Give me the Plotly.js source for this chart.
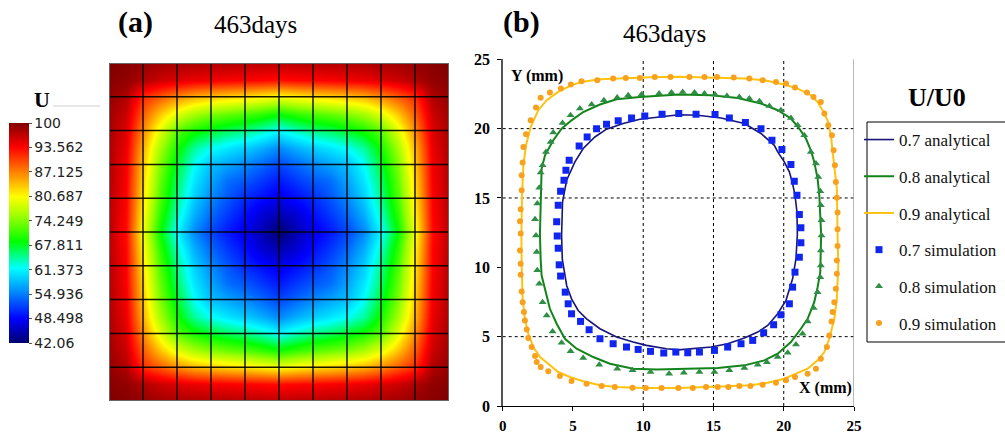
<!DOCTYPE html>
<html><head><meta charset="utf-8">
<script src="https://cdn.plot.ly/plotly-3.0.1.min.js"></script>
<style>html,body{margin:0;padding:0;background:#fff;}#chart{width:1005px;height:435px;}</style>
</head><body><div id="chart"></div>
<script>
// ---------- Panel (a): U sampled every half element on the 10x10 mesh ----------
const meshNodes = [0,1,2,3,4,5,6,7,8,9,10];
const sampleX = [0,0.5,1,1.5,2,2.5,3,3.5,4,4.5,5,5.5,6,6.5,7,7.5,8,8.5,9,9.5,10];
const sampleY = [0,0.5,1,1.5,2,2.5,3,3.5,4,4.5,5,5.5,6,6.5,7,7.5,8,8.5,9,9.5,10];
const uRows = [
  [100,99.6,99,98.4,98,97.7,97.5,97.4,97.3,97.1,97,97.1,97.3,97.4,97.5,97.7,98,98.4,99,99.6,100],
  [99.6,99.1,97.6,96.2,95.3,94.6,94.2,93.9,93.6,93.4,93,93.4,93.6,93.9,94.2,94.6,95.3,96.2,97.6,99.1,99.6],
  [99,97.6,91.5,89,86.5,84.5,83.4,82.6,81.9,81,80,81,81.9,82.6,83.4,84.5,86.5,89,91.5,97.6,99],
  [98.4,96.2,89,83.5,79,76,74.2,73,72,70.6,69,70.6,72,73,74.2,76,79,83.5,89,96.2,98.4],
  [98,95.3,86.5,79,72.5,69.5,67.5,66,65,63.4,61.5,63.4,65,66,67.5,69.5,72.5,79,86.5,95.3,98],
  [97.7,94.6,84.5,76,69.5,64.5,62,60.5,59.2,57.5,55.5,57.5,59.2,60.5,62,64.5,69.5,76,84.5,94.6,97.7],
  [97.5,94.2,83.4,74.2,67.5,62,58.5,57,55.5,53.8,52,53.8,55.5,57,58.5,62,67.5,74.2,83.4,94.2,97.5],
  [97.4,93.9,82.6,73,66,60.5,57,54,52.8,51.2,49.5,51.2,52.8,54,57,60.5,66,73,82.6,93.9,97.4],
  [97.3,93.6,81.9,72,65,59.2,55.5,52.8,50.5,49,47.5,49,50.5,52.8,55.5,59.2,65,72,81.9,93.6,97.3],
  [97.1,93.4,81,70.6,63.4,57.5,53.8,51.2,49,46.5,45,46.5,49,51.2,53.8,57.5,63.4,70.6,81,93.4,97.1],
  [97,93,80,69,61.5,55.5,52,49.5,47.5,45,42.06,45,47.5,49.5,52,55.5,61.5,69,80,93,97],
  [97.1,93.4,81,70.6,63.4,57.5,53.8,51.2,49,46.5,45,46.5,49,51.2,53.8,57.5,63.4,70.6,81,93.4,97.1],
  [97.3,93.6,81.9,72,65,59.2,55.5,52.8,50.5,49,47.5,49,50.5,52.8,55.5,59.2,65,72,81.9,93.6,97.3],
  [97.4,93.9,82.6,73,66,60.5,57,54,52.8,51.2,49.5,51.2,52.8,54,57,60.5,66,73,82.6,93.9,97.4],
  [97.5,94.2,83.4,74.2,67.5,62,58.5,57,55.5,53.8,52,53.8,55.5,57,58.5,62,67.5,74.2,83.4,94.2,97.5],
  [97.7,94.6,84.5,76,69.5,64.5,62,60.5,59.2,57.5,55.5,57.5,59.2,60.5,62,64.5,69.5,76,84.5,94.6,97.7],
  [98,95.3,86.5,79,72.5,69.5,67.5,66,65,63.4,61.5,63.4,65,66,67.5,69.5,72.5,79,86.5,95.3,98],
  [98.4,96.2,89,83.5,79,76,74.2,73,72,70.6,69,70.6,72,73,74.2,76,79,83.5,89,96.2,98.4],
  [99,97.6,91.5,89,86.5,84.5,83.4,82.6,81.9,81,80,81,81.9,82.6,83.4,84.5,86.5,89,91.5,97.6,99],
  [99.6,99.1,97.6,96.2,95.3,94.6,94.2,93.9,93.6,93.4,93,93.4,93.6,93.9,94.2,94.6,95.3,96.2,97.6,99.1,99.6],
  [100,99.6,99,98.4,98,97.7,97.5,97.4,97.3,97.1,97,97.1,97.3,97.4,97.5,97.7,98,98.4,99,99.6,100]
];
const uMin = 42.06, uMax = 100;
const cbTickVals = [100, 93.562, 87.125, 80.687, 74.249, 67.811, 61.373, 54.936, 48.498, 42.06];
const cbTickText = ['100', '93.562', '87.125', '80.687', '74.249', '67.811', '61.373', '54.936', '48.498', '42.06'];

// ---------- Panel (b): contour positions (mm) ----------
const ana07X = [4.19,4.26,4.55,5.14,5.73,6.56,7.39,8.57,9.76,10.95,12.53,13.88,15.54,17.2,18.38,19.33,19.57,20.04,20.4,20.63,20.8,20.94,20.97,20.87,20.63,20.16,19.57,18.86,18.15,17.2,16.01,14.83,13.65,12.5,11.66,10.23,9.28,8.1,6.92,5.97,5.37,4.9,4.55,4.24,4.19];
const ana07Y = [12.3,14.72,16.28,17.6,18.57,19.4,19.96,20.37,20.68,20.84,21.0,20.97,20.77,20.37,19.65,18.8,18.32,17.6,16.88,16.04,15.2,14.0,12.4,10.61,9.17,7.62,6.65,5.81,5.33,4.9,4.49,4.25,4.13,4.05,4.13,4.37,4.61,4.97,5.57,6.29,6.89,7.73,8.69,10.61,12.3];
const ana08X = [2.65,2.7,2.77,3.01,3.6,4.19,4.9,5.73,6.92,8.1,9.76,12.53,14.83,16.72,18.38,19.57,20.51,21.11,21.58,21.93,22.17,22.41,22.53,22.66,22.64,22.6,22.41,22.17,21.7,21.22,20.51,19.57,18.62,17.2,15.3,13.4,12.53,10.95,9.28,7.63,6.44,5.26,4.43,3.84,3.36,3.01,2.77,2.7,2.65];
const ana08Y = [12.4,15.68,17.12,18.08,19.16,20.0,20.6,21.2,21.74,22.12,22.28,22.46,22.41,22.21,21.81,21.33,20.73,20.0,19.29,18.44,17.6,16.4,15.2,12.4,11.1,9.65,8.57,7.49,6.29,5.57,4.61,3.77,3.29,2.93,2.74,2.69,2.64,2.64,2.69,3.05,3.53,4.13,4.85,5.93,7.01,8.34,9.41,10.61,12.4];
const ana09X = [1.33,1.37,1.47,1.66,1.99,2.53,3.13,3.95,4.9,5.61,6.92,8.81,10.47,12.53,15.3,17.2,18.62,20.04,20.99,21.93,22.41,22.76,23.12,23.36,23.48,23.6,23.78,23.83,23.88,23.78,23.6,23.24,22.89,22.41,21.7,20.87,20.04,18.86,17.67,16.01,14.36,12.53,9.99,8.1,6.92,5.73,4.78,3.95,3.24,2.65,2.18,1.82,1.58,1.42,1.35,1.33];
const ana09Y = [12.4,14.96,17.36,18.8,20.12,21.33,22.05,22.65,23.13,23.37,23.56,23.65,23.7,23.75,23.68,23.61,23.49,23.18,22.89,22.41,21.92,21.33,20.6,19.52,18.32,17.12,15.68,12.4,10.14,7.73,6.29,4.85,3.89,3.29,2.69,2.33,1.97,1.68,1.49,1.42,1.37,1.3,1.3,1.37,1.49,1.78,2.09,2.45,3.05,3.53,4.25,5.21,6.29,7.73,10.14,12.4];

const sim07X = [12.53,11.34,10.11,9.17,8.22,7.39,6.68,6.01,5.44,4.73,4.5,4.36,4.12,3.95,3.84,13.76,15.11,16.13,17.27,18.38,19.16,19.87,20.51,20.75,20.94,21.11,21.22,21.22,21.11,20.8,20.63,20.4,19.8,19.28,18.57,17.79,16.96,16.01,15.07,14.0,13.17,3.88,3.95,4.02,4.12,4.45,4.66,4.9,5.54,6.15,6.92,7.86,8.81,9.64,10.52,11.46,12.32];
const sim07Y = [21.1,21.04,20.92,20.77,20.56,20.32,20.0,19.4,18.75,17.72,17.0,16.28,15.49,14.48,13.28,21.04,21.02,20.77,20.44,20.0,19.16,18.49,17.41,16.21,15.2,13.81,12.85,11.77,10.73,9.65,8.57,7.37,6.58,5.86,5.28,4.73,4.49,4.25,4.01,3.89,3.84,12.25,11.38,10.18,9.37,8.21,7.37,6.65,6.1,5.5,4.85,4.49,4.25,4.08,3.94,3.82,3.89];
const sim08X = [12.01,11.13,9.88,8.93,8.15,7.2,6.33,5.49,4.83,4.26,3.6,3.41,3.08,2.84,2.7,2.6,2.46,2.3,12.81,13.65,14.36,15.11,15.96,16.84,17.55,18.27,18.98,19.8,20.51,20.99,21.46,21.93,22.29,22.46,22.6,22.64,22.69,22.69,22.64,22.64,22.6,22.41,22.13,21.7,21.34,20.87,20.28,19.57,18.8,18.15,17.2,16.13,15.07,14.0,12.89,2.37,2.42,2.46,2.6,2.84,3.13,3.55,4.19,4.83,5.73,6.87,8.15,9.24,10.52,11.84];
const sim08Y = [22.6,22.53,22.46,22.41,22.24,22.05,21.74,21.45,20.97,20.41,19.72,19.04,18.32,17.36,16.84,15.73,14.6,13.47,22.64,22.6,22.53,22.46,22.36,22.28,22.17,21.97,21.64,21.33,20.77,20.24,19.52,18.32,17.49,16.52,15.49,14.48,13.4,12.3,11.22,10.14,9.29,8.21,7.06,6.1,5.21,4.44,3.84,3.53,3.15,2.98,2.74,2.57,2.45,2.45,2.4,12.3,11.1,9.78,8.81,7.49,6.53,5.38,4.56,3.94,3.46,2.98,2.69,2.57,2.45,2.33];
const sim09X = [1.28,1.23,1.28,1.35,1.35,1.42,1.47,1.66,1.99,2.37,2.7,3.36,4.14,4.85,5.61,6.73,7.86,8.76,9.76,10.82,11.94,13.29,14.36,15.25,16.44,17.55,18.5,19.45,20.16,20.8,21.65,22.12,22.64,22.89,23.17,23.43,23.55,23.64,23.71,23.78,23.83,23.83,23.83,23.78,23.78,23.71,23.6,23.48,23.4,23.24,23.07,22.64,22.29,21.7,20.8,20.16,19.45,18.5,17.63,16.84,16.06,15.3,14.47,13.53,12.5,1.23,1.28,1.28,1.35,1.42,1.51,1.58,1.71,1.82,2.06,2.3,2.42,2.7,3.24,4.07,4.9,5.97,7.04,7.98,9.24,10.18,11.3];
const sim09Y = [12.44,13.33,14.19,15.56,16.64,17.56,18.68,19.6,20.6,21.52,22.22,22.6,22.89,23.18,23.41,23.49,23.61,23.65,23.65,23.73,23.73,23.73,23.73,23.73,23.68,23.61,23.49,23.37,23.25,22.96,22.6,22.28,21.92,21.09,20.24,19.52,18.44,17.36,16.16,15.01,13.96,12.75,11.53,10.5,9.53,8.45,7.49,6.77,6.1,5.09,4.25,3.41,2.69,2.33,2.09,1.85,1.68,1.54,1.44,1.44,1.37,1.37,1.37,1.3,1.3,11.22,10.25,9.46,8.26,7.49,6.77,6.17,5.52,4.9,4.25,3.6,3.17,2.81,2.5,2.16,1.8,1.61,1.44,1.37,1.32,1.3,1.3];

const bTicks = [0,5,10,15,20,25];
const gridX = [10,15,20];
const gridY = [5,15,20];

// ---------- figure ----------
const W = 1005, H = 435;
const px = v => v / W;          // pixel -> paper x
const py = v => 1 - v / H;      // pixel (from top) -> paper y

const jet = [
  [0, 'rgb(0,0,110)'], [0.11, 'rgb(0,0,255)'], [0.23, 'rgb(0,135,255)'],
  [0.34, 'rgb(0,255,255)'], [0.46, 'rgb(0,255,0)'], [0.58, 'rgb(160,255,0)'],
  [0.665, 'rgb(255,255,0)'], [0.78, 'rgb(255,125,0)'], [0.89, 'rgb(255,0,0)'],
  [1, 'rgb(128,0,0)']
];

const traces = [
  {
    type: 'heatmap', x: sampleX, y: sampleY, z: uRows,
    zmin: uMin, zmax: uMax, zsmooth: 'best', colorscale: jet,
    xaxis: 'x', yaxis: 'y', showlegend: false, hoverinfo: 'skip',
    colorbar: {
      x: px(9), xanchor: 'left', xpad: 0, ypad: 0, thickness: 20,
      len: 220 / H, lenmode: 'fraction', y: py(233), yanchor: 'middle',
      outlinewidth: 0, tickmode: 'array', tickvals: cbTickVals, ticktext: cbTickText,
      ticks: 'outside', ticklen: 3, tickcolor: '#555',
      tickfont: {family: 'DejaVu Sans', size: 14, color: '#222'}
    }
  },
  {type: 'scatter', mode: 'lines', name: '0.7 analytical', x: ana07X, y: ana07Y, xaxis: 'x2', yaxis: 'y2',
   line: {color: '#15157c', width: 1.6}, legendgroup: 'g1'},
  {type: 'scatter', mode: 'lines', name: '0.8 analytical', x: ana08X, y: ana08Y, xaxis: 'x2', yaxis: 'y2',
   line: {color: '#12841a', width: 2}, legendgroup: 'g2'},
  {type: 'scatter', mode: 'lines', name: '0.9 analytical', x: ana09X, y: ana09Y, xaxis: 'x2', yaxis: 'y2',
   line: {color: '#ffc20e', width: 2}, legendgroup: 'g3'},
  {type: 'scatter', mode: 'markers', name: '0.7 simulation', x: sim07X, y: sim07Y, xaxis: 'x2', yaxis: 'y2',
   marker: {symbol: 'square', color: '#1026f0', size: 7}, legendgroup: 'g4'},
  {type: 'scatter', mode: 'markers', name: '0.8 simulation', x: sim08X, y: sim08Y, xaxis: 'x2', yaxis: 'y2',
   marker: {symbol: 'triangle-up', color: '#2f8d46', size: 7}, legendgroup: 'g5'},
  {type: 'scatter', mode: 'markers', name: '0.9 simulation', x: sim09X, y: sim09Y, xaxis: 'x2', yaxis: 'y2',
   marker: {symbol: 'circle', color: '#f7a11e', size: 6}, legendgroup: 'g6'}
];

const shapes = [];
// mesh lines of panel (a)
const m0 = meshNodes[0], m1 = meshNodes[meshNodes.length - 1];
meshNodes.slice(1, -1).forEach(k => {
  shapes.push({type: 'line', xref: 'x', yref: 'y', x0: k, x1: k, y0: m0, y1: m1,
               line: {color: 'rgba(0,0,0,0.9)', width: 1.5}, layer: 'above'});
  shapes.push({type: 'line', xref: 'x', yref: 'y', y0: k, y1: k, x0: m0, x1: m1,
               line: {color: 'rgba(0,0,0,0.9)', width: 1.5}, layer: 'above'});
});
shapes.push({type: 'rect', xref: 'x', yref: 'y', x0: m0, x1: m1, y0: m0, y1: m1,
             line: {color: '#666', width: 2}, layer: 'above'});
// dashed grid of panel (b)
gridX.forEach(v => shapes.push({type: 'line', xref: 'x2', yref: 'y2', x0: v, x1: v, y0: 0, y1: 25,
  line: {color: '#000', width: 1, dash: '3px,3px'}, layer: 'below'}));
gridY.forEach(v => shapes.push({type: 'line', xref: 'x2', yref: 'y2', y0: v, y1: v, x0: 0, x1: 25,
  line: {color: '#000', width: 1, dash: '3px,3px'}, layer: 'below'}));
// right frame of panel (b)
shapes.push({type: 'line', xref: 'x2', yref: 'y2', x0: 25, x1: 25, y0: 0, y1: 25, line: {color: '#a0a0a0', width: 1.5}});
// line beside the colorbar title
shapes.push({type: 'line', xref: 'paper', yref: 'paper', x0: px(53), x1: px(100), y0: py(106), y1: py(106),
             line: {color: '#d0d0d0', width: 1}});
// legend box (extends past right edge)
shapes.push({type: 'rect', xref: 'paper', yref: 'paper', x0: px(867), x1: px(1015), y0: py(342), y1: py(122),
             line: {color: '#000', width: 1}});

const serif = 'Liberation Serif';
const annotations = [
  {text: '<b>(a)</b>', x: px(135), y: py(22), font: {family: serif, size: 30, color: '#000'}},
  {text: '463days', x: px(256), y: py(24), font: {family: serif, size: 25, color: '#000'}},
  {text: '<b>(b)</b>', x: px(521), y: py(22), font: {family: serif, size: 30, color: '#000'}},
  {text: '463days', x: px(664), y: py(34), font: {family: serif, size: 25, color: '#000'}},
  {text: '<b>U</b>', x: px(42), y: py(99), font: {family: serif, size: 22, color: '#000'}},
  {text: '<b>U/U0</b>', x: px(937), y: py(97), font: {family: serif, size: 26, color: '#000'}},
  {text: '<b>Y (mm)</b>', x: px(537), y: py(76), font: {family: serif, size: 16, color: '#000'}},
  {text: '<b>X (mm)</b>', x: px(825), y: py(388), font: {family: serif, size: 16, color: '#000'}}
].map(a => Object.assign({xref: 'paper', yref: 'paper', showarrow: false, xanchor: 'center', yanchor: 'middle'}, a));

const layout = {
  width: W, height: H,
  margin: {l: 0, r: 0, t: 0, b: 0},
  paper_bgcolor: '#fff', plot_bgcolor: 'rgba(0,0,0,0)',
  showlegend: true,
  xaxis: {domain: [px(109), px(449)], range: [0, 10], visible: false, fixedrange: true},
  yaxis: {domain: [py(401), py(63)], range: [0, 10], visible: false, fixedrange: true},
  xaxis2: {domain: [px(502.7), px(854)], range: [0, 25], anchor: 'y2', tickmode: 'array', tickvals: bTicks,
           showgrid: false, zeroline: false, showline: true, linecolor: '#000', linewidth: 1,
           ticks: 'outside', ticklen: 4, tickcolor: '#000',
           tickfont: {family: serif, size: 15, color: '#000', weight: 'bold'}, ticklabelstandoff: 2},
  yaxis2: {domain: [py(406), py(59.3)], range: [0, 25], anchor: 'x2', tickmode: 'array', tickvals: bTicks,
           showgrid: false, zeroline: false, showline: true, linecolor: '#555', linewidth: 1.5,
           ticks: 'outside', ticklen: 4, tickcolor: '#000',
           tickfont: {family: serif, size: 16, color: '#000', weight: 'bold'}, ticklabelstandoff: 4},
  legend: {x: px(859), y: py(122), xanchor: 'left', yanchor: 'top', borderwidth: 0,
           bgcolor: 'rgba(0,0,0,0)', traceorder: 'grouped', tracegroupgap: 11.6,
           font: {family: serif, size: 17, color: '#111'}},
  shapes: shapes,
  annotations: annotations
};

Plotly.newPlot('chart', traces, layout, {staticPlot: true, displayModeBar: false});
</script>
</body></html>
